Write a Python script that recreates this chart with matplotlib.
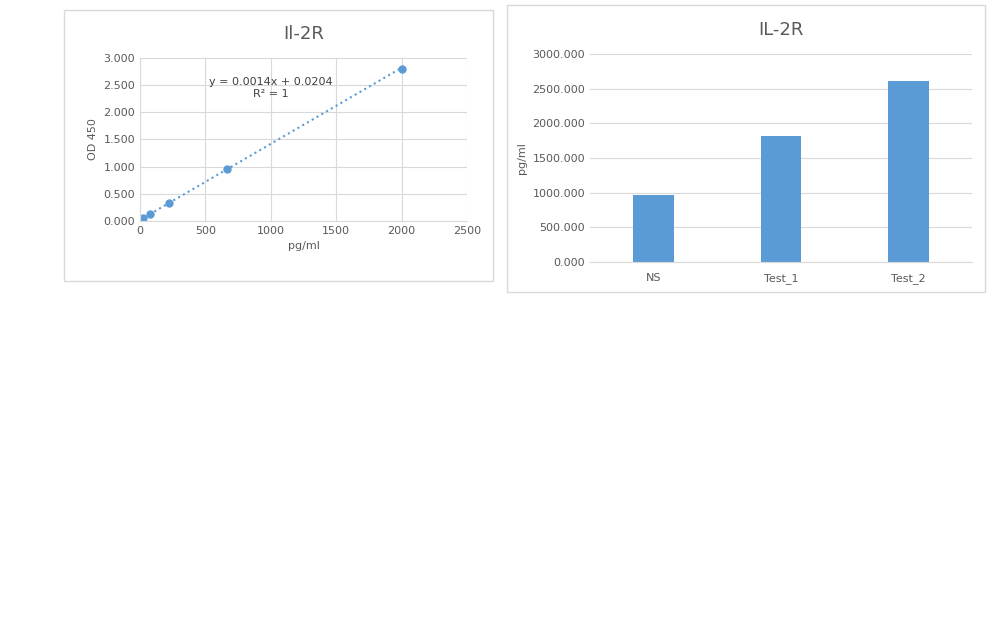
import matplotlib.pyplot as plt
from matplotlib.patches import Rectangle
import numpy as np

# standard curve
conc = [0, 8, 25, 74, 222, 667, 2000]
od = [0.020, 0.031, 0.055, 0.124, 0.331, 0.954, 2.790]

# samples
samples = ["NS", "Test_1", "Test_2"]
pg_ml = [968, 1820, 2605]

grid_c = "#d9d9d9"
txt_c = "#595959"
blue = "#5b9bd5"

W, H = 1008, 630
fig = plt.figure(figsize=(10.08, 6.3), dpi=100)

def frac(x0, y0, x1, y1):
    return [x0 / W, 1 - y1 / H, (x1 - x0) / W, (y1 - y0) / H]

# outer chart boxes
for x0, y0, x1, y1 in [(64, 10, 493, 281), (507, 5, 985, 292)]:
    fig.patches.append(Rectangle((x0 / W, 1 - y1 / H), (x1 - x0) / W, (y1 - y0) / H,
                                 transform=fig.transFigure, fill=False, ec="#d9d9d9", lw=1))

def style(ax):
    for s in ["top", "right", "left"]:
        ax.spines[s].set_visible(False)
    ax.spines["bottom"].set_color(grid_c)
    ax.tick_params(length=0, labelsize=8, colors=txt_c)
    ax.grid(color=grid_c, lw=0.8)
    ax.set_axisbelow(True)

ax1 = fig.add_axes(frac(140, 58, 467, 221))
style(ax1)
ax1.spines["left"].set_visible(True)
ax1.spines["left"].set_color(grid_c)
ax1.plot(conc, od, "o", color=blue, ms=5)
xx = np.array([0, 2000])
ax1.plot(xx, 0.0014 * xx + 0.0204, ":", color=blue, lw=1.5)
ax1.set_xlim(0, 2500)
ax1.set_ylim(0, 3)
ax1.set_xticks(range(0, 2501, 500))
ax1.set_yticks(np.arange(0, 3.01, 0.5))
ax1.set_yticklabels([f"{v:.3f}" for v in np.arange(0, 3.01, 0.5)])
ax1.set_xlabel("pg/ml", fontsize=8, color=txt_c)
ax1.set_ylabel("OD 450", fontsize=8, color=txt_c)
ax1.set_title("Il-2R", fontsize=13, color=txt_c, pad=14)
ax1.text(1000, 2.45, "y = 0.0014x + 0.0204\nR² = 1", fontsize=8, color="#404040",
         ha="center", va="center", linespacing=1.2)

ax2 = fig.add_axes(frac(590, 54, 972, 262))
style(ax2)
ax2.grid(axis="x", visible=False)
ax2.bar(samples, pg_ml, width=0.32, color=blue)
ax2.set_ylim(0, 3000)
ax2.set_xlim(-0.5, 2.5)
ax2.set_yticks(range(0, 3001, 500))
ax2.set_yticklabels([f"{v:.3f}" for v in range(0, 3001, 500)])
ax2.tick_params(axis="x", pad=8)
ax2.set_ylabel("pg/ml", fontsize=8, color=txt_c)
ax2.set_title("IL-2R", fontsize=13, color=txt_c, pad=14)

fig.savefig("out.png", dpi=100)
